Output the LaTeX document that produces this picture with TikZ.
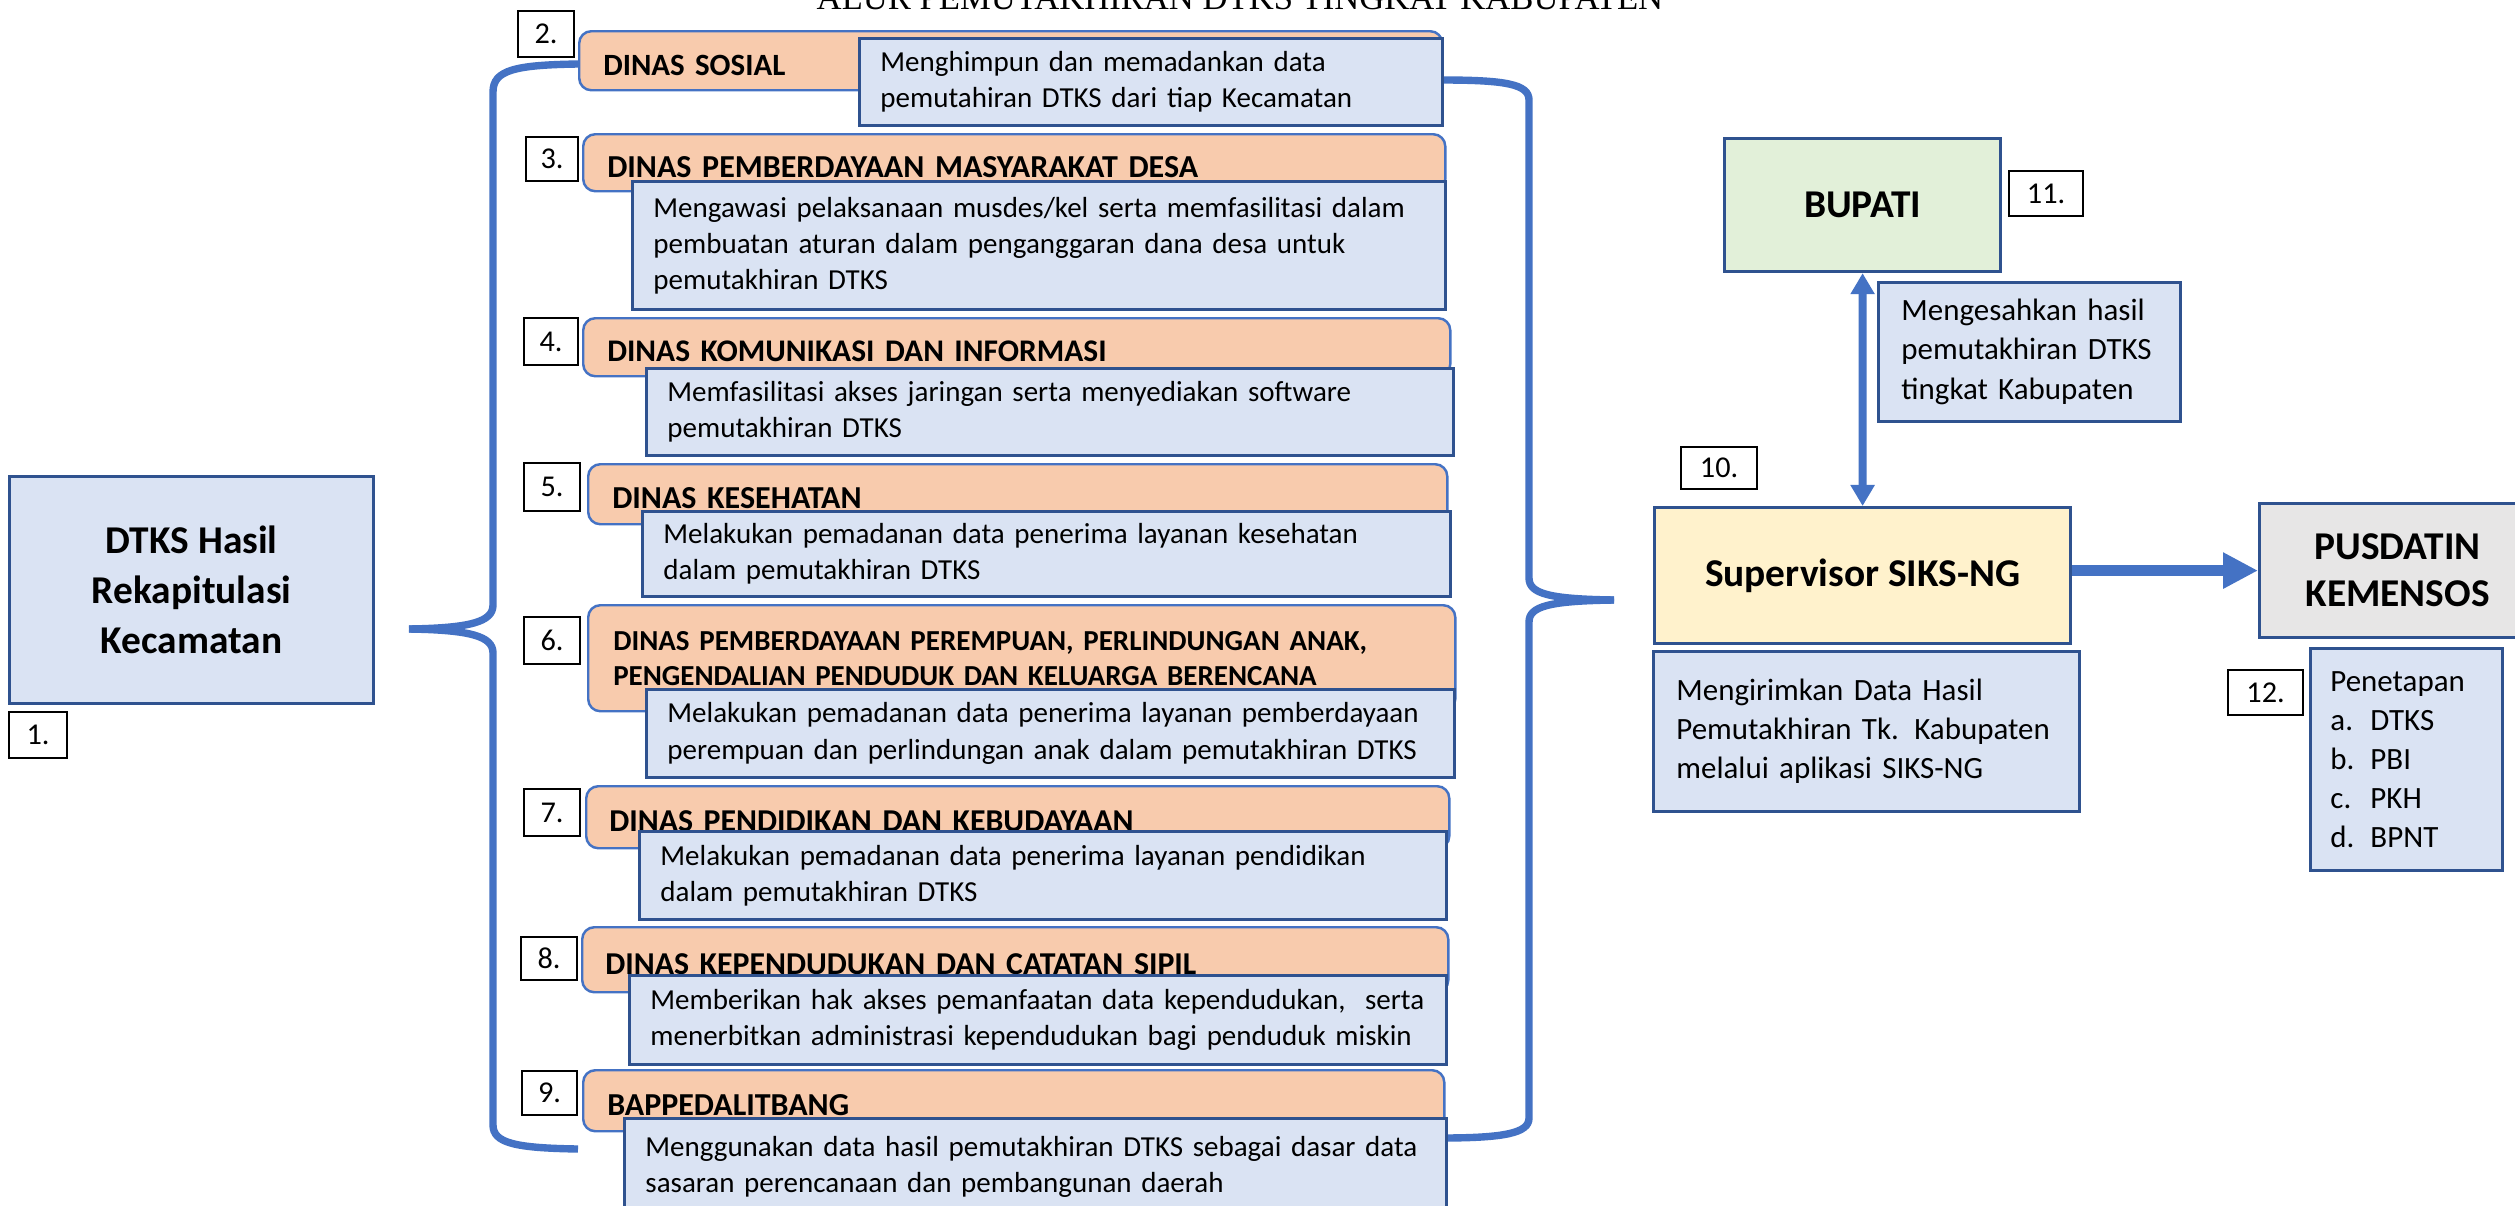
\documentclass[tikz,border=0pt]{standalone}
\usepackage{fontspec}
\setmainfont{Carlito}
\newfontfamily\titlefont{Liberation Serif}
\usetikzlibrary{arrows.meta}
\definecolor{bfill}{HTML}{DAE3F3}
\definecolor{bline}{HTML}{2F528F}
\definecolor{ofill}{HTML}{F8CBAD}
\definecolor{oline}{HTML}{4472C4}
\definecolor{gfill}{HTML}{E2F0D9}
\definecolor{yfill}{HTML}{FFF2CC}
\definecolor{grfill}{HTML}{E7E6E6}
\definecolor{brc}{HTML}{4472C4}
\newcommand\fdesc{\fontsize{8.25}{10.25}\selectfont}
\newcommand\fhd[1]{\fontsize{#1}{10}\selectfont\bfseries}
\newcommand\fside{\fontsize{8.8}{11.1}\selectfont}
\newcommand\fbig{\fontsize{11.2}{14.2}\selectfont\bfseries}
\newcommand\fnum{\fontsize{8.6}{10}\selectfont}
\newcommand\hdstrut{\rule{0pt}{8.3pt}}
\newcommand\boxnode[7]{%
  \pgfmathsetmacro\mybw{(#5-#3)*0.01}%
  \pgfmathsetmacro\mybh{(#6-#4)*0.01}%
  \node[#1, anchor=north west, minimum width=\mybw cm, minimum height=\mybh cm] (#2) at (#3,#4) {#7};}
\newcommand\lboxnode[8]{%
  \pgfmathsetmacro\mybw{(#5-#3)*0.01}%
  \pgfmathsetmacro\mybh{(#6-#4)*0.01}%
  \pgfmathsetmacro\mytw{\mybw-2*#7}%
  \node[#1, anchor=north west, inner xsep=#7cm, text width=\mytw cm, minimum width=\mybw cm, minimum height=\mybh cm, align=left] (#2) at (#3,#4) {#8};}
\begin{document}
\begin{tikzpicture}[x=0.01cm,y=-0.01cm,
  desc/.style={draw=bline, fill=bfill, line width=0.8pt, font=\fdesc, inner ysep=0pt},
  head/.style={draw=oline, fill=ofill, line width=0.7pt, rounded corners=0.12cm, font=\fhd{#1}, inner ysep=0pt},
  head/.default=9,
  numbox/.style={draw=black, fill=white, line width=0.6pt, font=\fnum, inner sep=0pt},
  mainbox/.style={draw=bline, line width=0.9pt, font=\fbig, align=center, inner sep=0pt},
  side/.style={draw=bline, fill=bfill, line width=0.8pt, font=\fside, inner ysep=0pt},
  brace/.style={draw=brc, line width=2.1pt},
  bigarrow/.style={draw=brc, line width=3.1pt, -{Triangle[width=0.34cm,length=0.35cm]}},
  dblarrow/.style={draw=brc, line width=2.3pt, {Triangle[width=0.23cm,length=0.21cm]}-{Triangle[width=0.23cm,length=0.21cm]}}
]
\useasboundingbox[fill=white] (0,0) rectangle (2515,1206);

% title (cut by the top edge, as in the reference)
\node[font=\titlefont\fontsize{9.85}{10}\selectfont, anchor=base, inner sep=0pt] (title) at (1240,10) {ALUR PEMUTAKHIRAN DTKS TINGKAT KABUPATEN};

% braces
\coordinate (ltip) at (409,629);
\coordinate (rtip) at (1614,600);
\draw[brace] (578,64) .. controls (515,65) and (493,70) .. (493,92) -- (493,605) .. controls (493,622) and (470,628) .. (ltip);
\draw[brace] (ltip) .. controls (470,630) and (493,636) .. (493,653) -- (493,1125) .. controls (493,1143) and (515,1148) .. (578,1149);
\draw[brace] (1441,80) .. controls (1505,80) and (1529,84) .. (1529,100) -- (1529,578) .. controls (1529,594) and (1550,599) .. (rtip);
\draw[brace] (rtip) .. controls (1550,601) and (1529,606) .. (1529,622) -- (1529,1118) .. controls (1529,1133) and (1505,1138) .. (1441,1138);

% left box
\boxnode{mainbox, fill=bfill}{dtks}{8}{475}{372}{702}{DTKS Hasil\\Rekapitulasi\\Kecamatan}
\boxnode{numbox}{n1}{8}{711}{66}{757}{1.}

% orange headers
\lboxnode{head=8.8}{o2}{578}{30}{1441}{89}{0.24}{\hdstrut DINAS SOSIAL}
\lboxnode{head=9.1}{o3}{582}{133}{1444}{190}{0.24}{\hdstrut DINAS PEMBERDAYAAN MASYARAKAT DESA}
\lboxnode{head=8.95}{o4}{582}{317}{1449}{375}{0.24}{\hdstrut DINAS KOMUNIKASI DAN INFORMASI}
\lboxnode{head=9.1}{o5}{587}{463}{1446}{523}{0.24}{\hdstrut DINAS KESEHATAN}
\lboxnode{head=8.25}{o6}{587}{604}{1454}{710}{0.25}{DINAS PEMBERDAYAAN PEREMPUAN, PERLINDUNGAN ANAK,\\PENGENDALIAN PENDUDUK DAN KELUARGA BERENCANA}
\lboxnode{head=9.05}{o7}{585}{785}{1448}{847}{0.23}{\hdstrut DINAS PENDIDIKAN DAN KEBUDAYAAN}
\lboxnode{head=9.05}{o8}{581}{926}{1447}{991}{0.23}{\hdstrut DINAS KEPENDUDUKAN DAN CATATAN SIPIL}
\lboxnode{head=9.1}{o9}{582}{1069}{1443}{1130}{0.24}{\hdstrut BAPPEDALITBANG}

% descriptions
\lboxnode{desc}{d2}{858}{37}{1441}{124}{0.21}{Menghimpun dan memadankan data\\pemutahiran DTKS dari tiap Kecamatan}
\lboxnode{desc}{d3}{631}{180}{1444}{308}{0.21}{\mbox{Mengawasi pelaksanaan musdes/kel serta memfasilitasi dalam}\\pembuatan aturan dalam penganggaran dana desa untuk\\pemutakhiran DTKS}
\lboxnode{desc}{d4}{645}{367}{1452}{454}{0.21}{Memfasilitasi akses jaringan serta menyediakan software\\pemutakhiran DTKS}
\lboxnode{desc}{d5}{641}{510}{1449}{595}{0.21}{Melakukan pemadanan data penerima layanan kesehatan\\dalam pemutakhiran DTKS}
\lboxnode{desc}{d6}{645}{688}{1453}{776}{0.21}{\mbox{Melakukan pemadanan data penerima layanan pemberdayaan}\\\mbox{perempuan dan perlindungan anak dalam pemutakhiran DTKS}}
\lboxnode{desc}{d7}{638}{830}{1445}{918}{0.21}{Melakukan pemadanan data penerima layanan pendidikan\\dalam pemutakhiran DTKS}
\lboxnode{desc}{d8}{628}{974}{1445}{1063}{0.21}{\mbox{Memberikan hak akses pemanfaatan data kependudukan,\ \ serta}\\\mbox{menerbitkan administrasi kependudukan bagi penduduk miskin}}
\lboxnode{desc}{d9}{623}{1117}{1445}{1214}{0.21}{\mbox{Menggunakan data hasil pemutakhiran DTKS sebagai dasar data}\\sasaran perencanaan dan pembangunan daerah}

% number labels
\boxnode{numbox}{n2}{517}{10}{573}{56}{2.}
\boxnode{numbox}{n3}{525}{136}{577}{180}{3.}
\boxnode{numbox}{n4}{523}{317}{577}{364}{4.}
\boxnode{numbox}{n5}{523}{462}{579}{510}{5.}
\boxnode{numbox}{n6}{523}{616}{579}{663}{6.}
\boxnode{numbox}{n7}{523}{788}{579}{835}{7.}
\boxnode{numbox}{n8}{520}{936}{576}{979}{8.}
\boxnode{numbox}{n9}{521}{1070}{576}{1114}{9.}

% right side
\boxnode{mainbox, fill=gfill}{bupati}{1723}{137}{1999}{270}{BUPATI}
\boxnode{numbox}{n11}{2008}{170}{2082}{215}{11.}
\lboxnode{side}{m11}{1877}{281}{2179}{420}{0.23}{Mengesahkan hasil\\pemutakhiran DTKS\\tingkat Kabupaten}
\boxnode{numbox}{n10}{1680}{446}{1756}{488}{10.}
\boxnode{mainbox, fill=yfill}{sup}{1653}{506}{2069}{642}{Supervisor SIKS-NG}
\lboxnode{side}{m10}{1652}{650}{2078}{810}{0.23}{Mengirimkan Data Hasil\\Pemutakhiran Tk. Kabupaten\\melalui aplikasi SIKS-NG}
\boxnode{mainbox, fill=grfill, font=\fontsize{11.2}{13.4}\selectfont\bfseries}{pus}{2258}{502}{2534}{636}{PUSDATIN\\KEMENSOS}
\lboxnode{side}{pen}{2309}{647}{2501}{869}{0.2}{Penetapan\\\makebox[0.4cm][l]{a.}DTKS\\\makebox[0.4cm][l]{b.}PBI\\\makebox[0.4cm][l]{c.}PKH\\\makebox[0.4cm][l]{d.}BPNT}
\boxnode{numbox}{n12}{2227}{669}{2302}{714}{12.}

% arrows
\draw[dblarrow] (bupati.south) -- (sup.north);
\draw[bigarrow] (sup.east |- pus.west) -- (pus.west);
\end{tikzpicture}
\end{document}
